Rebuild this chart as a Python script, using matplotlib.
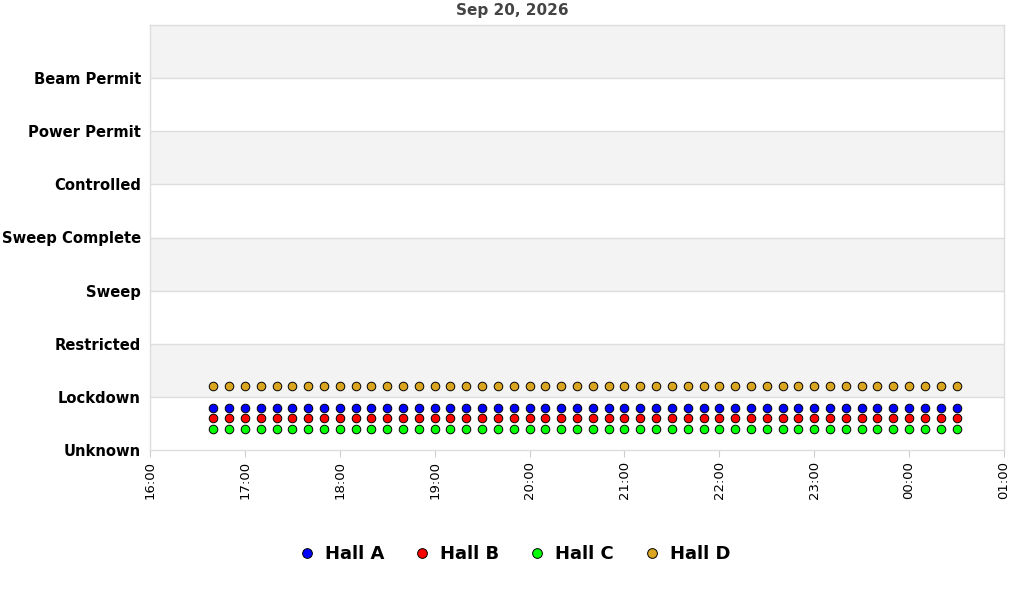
import matplotlib
matplotlib.use("Agg")
import matplotlib.pyplot as plt
import matplotlib.dates as mdates
import pandas as pd
from matplotlib.lines import Line2D

title = "Sep 20, 2026"
state_labels = ["Unknown", "Lockdown", "Restricted", "Sweep", "Sweep Complete",
                "Controlled", "Power Permit", "Beam Permit"]
times = ["2026-09-20 16:40", "2026-09-20 16:50", "2026-09-20 17:00", "2026-09-20 17:10",
         "2026-09-20 17:20", "2026-09-20 17:30", "2026-09-20 17:40", "2026-09-20 17:50",
         "2026-09-20 18:00", "2026-09-20 18:10", "2026-09-20 18:20", "2026-09-20 18:30",
         "2026-09-20 18:40", "2026-09-20 18:50", "2026-09-20 19:00", "2026-09-20 19:10",
         "2026-09-20 19:20", "2026-09-20 19:30", "2026-09-20 19:40", "2026-09-20 19:50",
         "2026-09-20 20:00", "2026-09-20 20:10", "2026-09-20 20:20", "2026-09-20 20:30",
         "2026-09-20 20:40", "2026-09-20 20:50", "2026-09-20 21:00", "2026-09-20 21:10",
         "2026-09-20 21:20", "2026-09-20 21:30", "2026-09-20 21:40", "2026-09-20 21:50",
         "2026-09-20 22:00", "2026-09-20 22:10", "2026-09-20 22:20", "2026-09-20 22:30",
         "2026-09-20 22:40", "2026-09-20 22:50", "2026-09-20 23:00", "2026-09-20 23:10",
         "2026-09-20 23:20", "2026-09-20 23:30", "2026-09-20 23:40", "2026-09-20 23:50",
         "2026-09-21 00:00", "2026-09-21 00:10", "2026-09-21 00:20", "2026-09-21 00:30"]
hall_names = ["Hall A", "Hall B", "Hall C", "Hall D"]
hall_colors = ["#0000ff", "#ff0000", "#00ff00", "#daa520"]
hall_a = [0.8] * len(times)
hall_b = [0.6] * len(times)
hall_c = [0.4] * len(times)
hall_d = [1.2] * len(times)
x_start = "2026-09-20 16:00"
x_end = "2026-09-21 01:00"

plt.rcParams['font.family'] = ['DejaVu Sans']
fig = plt.figure(figsize=(10.24, 6.0), dpi=100)
ax = fig.add_axes([150/1024, 1 - 450/600, 854/1024, 425/600])

t = pd.to_datetime(times)
ax.set_xlim(pd.Timestamp(x_start), pd.Timestamp(x_end))
ax.set_ylim(0, 8)

# alternating bands
for i in range(8):
    if i % 2 == 1:
        ax.axhspan(i, i + 1, color="#f3f3f3", zorder=0, lw=0)
for i in range(1, 8):
    ax.axhline(i, color="#dddddd", lw=1, zorder=1)

for name, col, vals in zip(hall_names, hall_colors, [hall_a, hall_b, hall_c, hall_d]):
    ax.scatter(t, vals, s=38, c=col, edgecolors="black", linewidths=0.7, zorder=3)

ax.set_yticks(range(8))
ax.set_yticklabels(state_labels, fontweight="bold", fontsize=10.6)
ax.xaxis.set_major_locator(mdates.HourLocator())
ax.xaxis.set_major_formatter(mdates.DateFormatter("%H:%M"))
for lab in ax.get_xticklabels():
    lab.set_rotation(90)
    lab.set_fontsize(9.5)
ax.tick_params(axis="y", length=0, pad=6.5)
ax.tick_params(axis="x", length=5, color="#cccccc", pad=3)
for s in ax.spines.values():
    s.set_color("#dddddd")
    s.set_linewidth(1)

fig.text(512/1024, 1 - 11/600, title, ha="center", va="center",
         fontsize=11, fontweight="bold", color="#444444")

handles = [Line2D([], [], marker="o", ls="", markersize=7, markerfacecolor=c,
                  markeredgecolor="black", markeredgewidth=0.7) for c in hall_colors]
fig.legend(handles, hall_names, loc="center", bbox_to_anchor=(514/1024, 1 - 554/600),
           ncol=4, frameon=False, prop={"weight": "bold", "size": 13},
           handletextpad=0.5, columnspacing=1.6, handlelength=1.0)

fig.savefig("out.png", dpi=100)
